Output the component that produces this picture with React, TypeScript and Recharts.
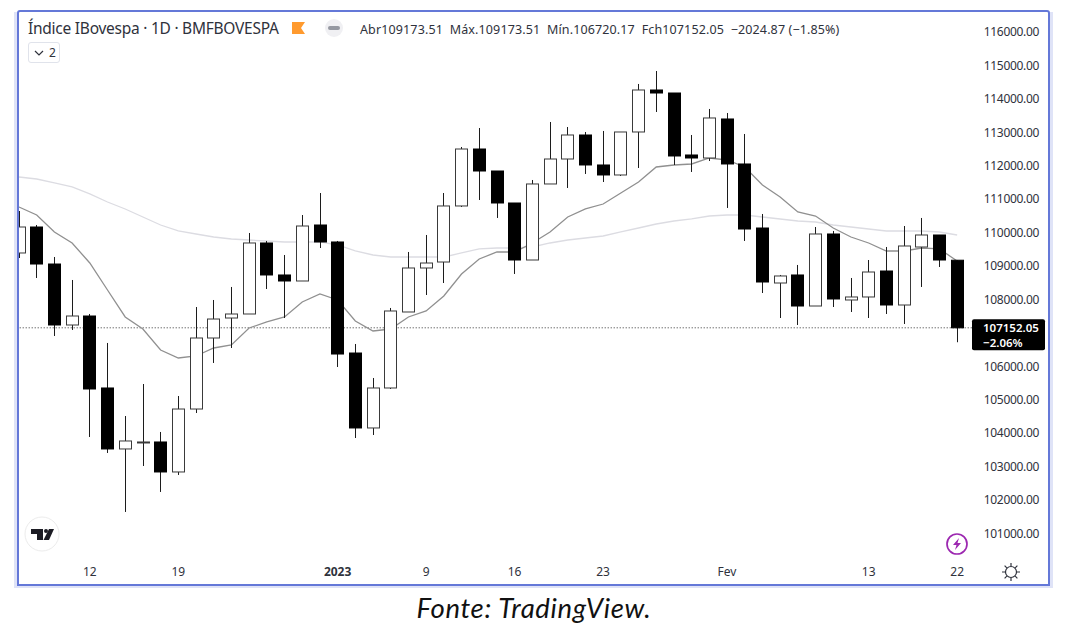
import { ComposedChart, Bar, Line, XAxis, YAxis, ReferenceLine } from 'recharts';

const opens = [
  109390, 110167, 109060, 107236, 107505, 105352, 103528, 103737, 103737, 102840,
  104723, 106847, 107445, 107565, 109689, 108732, 108552, 110227, 109719, 106398,
  104156, 105352, 107625, 108941, 109120, 110796, 112500, 111842, 110885, 109180,
  111454, 112201, 112919, 112022, 111723, 113009, 114265, 114175, 112321, 112231,
  113398, 112052, 110137, 108492, 108732, 107804, 109958, 107984, 108074, 108851,
  107834, 109569, 109928, 109173.51,
];
const highs = [
  110646, 110227, 109270, 108582, 107565, 106698, 104514, 105471, 104036, 105112,
  107774, 107984, 108373, 109988, 109749, 109330, 110526, 111184, 109749, 106668,
  105651, 107745, 109420, 109928, 111184, 112560, 113128, 111842, 110885, 111573,
  113308, 113158, 113009, 113039, 113009, 114445, 114833, 114175, 112919, 113697,
  113577, 112949, 110556, 108732, 109031, 110167, 110048, 108642, 109180, 109569,
  110197, 110437, 109928, 109173.51,
];
const lows = [
  109240, 108642, 106907, 107087, 103886, 103408, 101644, 103019, 102242, 102750,
  104604, 106100, 106548, 107565, 108313, 107445, 108552, 109539, 105980, 103856,
  103946, 105322, 107625, 108133, 108492, 110766, 110975, 110437, 108762, 109180,
  111454, 111334, 111753, 111513, 111693, 111932, 113607, 112022, 111813, 112141,
  110736, 109749, 108193, 107445, 107236, 107804, 107774, 107625, 107445, 107565,
  107266, 108373, 108971, 106720.17,
];
const closes = [
  110167, 109060, 107236, 107505, 105322, 103528, 103767, 103737, 102840, 104723,
  106847, 107415, 107565, 109689, 108732, 108552, 110197, 109719, 106368, 104156,
  105352, 107655, 108941, 109090, 110796, 112500, 111842, 110885, 109180, 111454,
  112201, 112919, 112022, 111723, 113009, 114265, 114175, 112291, 112231, 113428,
  112052, 110107, 108522, 108702, 107804, 109958, 108014, 108074, 108821, 107834,
  109599, 109928, 109180, 107152.05,
];
const fastAvg = [
  110766, 110526, 110018, 109689, 109091, 108283, 107476, 107116, 106489, 106249,
  106309, 106548, 106638, 107146, 107326, 107476, 107924, 108163, 107984, 107356,
  107057, 107116, 107476, 107655, 108104, 108762, 109210, 109420, 109420, 109689,
  110018, 110466, 110706, 110855, 111184, 111513, 111962, 112022, 112052, 112231,
  112171, 111962, 111424, 111065, 110616, 110496, 110137, 109868, 109689, 109450,
  109450, 109539, 109510, 109150,
];
const slowAvg = [
  111663, 111603, 111484, 111364, 111155, 110915, 110706, 110466, 110227, 110048,
  109958, 109868, 109808, 109778, 109749, 109719, 109719, 109719, 109629, 109450,
  109330, 109270, 109270, 109270, 109270, 109390, 109510, 109539, 109539, 109569,
  109689, 109778, 109838, 109898, 110018, 110137, 110257, 110347, 110407, 110496,
  110526, 110526, 110466, 110407, 110347, 110317, 110227, 110167, 110107, 110048,
  110048, 110048, 110018, 109928,
];
const priceTicks = [
  101000, 102000, 103000, 104000, 105000, 106000, 108000, 109000,
  110000, 111000, 112000, 113000, 114000, 115000, 116000,
];
const priceDomain = [100207, 116538];
const dateTicks = [4, 9, 18, 23, 28, 33, 40, 48, 53];
const dateLabels = ['12', '19', '2023', '9', '16', '23', 'Fev', '13', '22'];
const lastClose = 107152.05;

const rows: any[] = opens.map((o, i) => ({
  idx: i,
  open: o,
  close: closes[i],
  high: highs[i],
  low: lows[i],
  range: [lows[i], highs[i]],
  fast: fastAvg[i],
  slow: slowAvg[i],
}));
// empty slot so the price line runs on under the tag
rows.push({ idx: opens.length });

const FONT = '"Noto Sans", sans-serif';
const TEXT = '#2f323c';
const chartProps = {
  width: 1068,
  height: 626,
  data: rows,
  margin: { top: 14, right: 0, bottom: 42, left: 10.15 },
};

function Candle(props: any) {
  const { x, y, width, height, payload } = props;
  if (!payload?.range || !height) return null;
  const perUnit = height / (payload.high - payload.low);
  const yOf = (v: number) => y + (payload.high - v) * perUnit;
  const top = yOf(Math.max(payload.open, payload.close));
  const bottom = yOf(Math.min(payload.open, payload.close));
  const mid = Math.round(x + width / 2 - 0.5) + 0.5;
  const w = 12;
  const up = payload.close >= payload.open;
  return (
    <g>
      <line x1={mid} x2={mid} y1={y} y2={y + height} stroke="#1c1c1c" strokeWidth={1} />
      <rect
        x={mid - w / 2}
        y={top}
        width={w}
        height={Math.max(bottom - top, 1)}
        fill={up ? '#ffffff' : '#000000'}
        stroke={up ? '#3a3a3a' : '#000000'}
        strokeWidth={1}
      />
    </g>
  );
}

function DateTick({ x, y, payload }: any) {
  const label = dateLabels[dateTicks.indexOf(payload.value)];
  return (
    <text
      x={x}
      y={y}
      textAnchor="middle"
      fontSize={12}
      fontFamily={FONT}
      fontWeight={label === '2023' ? 700 : 400}
      fill={TEXT}
    >
      {label}
    </text>
  );
}

function PriceTag({ viewBox }: any) {
  const cy = viewBox.y;
  return (
    <g fontFamily={FONT} fontSize={11.5} fill="#ffffff">
      <rect x={972} y={cy - 8.5} width={73} height={31} rx={2} fill="#000000" />
      <text fontWeight={600}>
        <tspan x={983} y={cy + 4.5}>107152.05</tspan>
        <tspan x={983} y={cy + 19.5}>−2.06%</tspan>
      </text>
    </g>
  );
}

export default function App() {
  return (
    <div style={{ position: 'absolute', left: 0, top: 0, width: 1068, height: 626, background: '#fff', overflow: 'hidden' }}>
      {/* moving averages and price line sit under the candles, so they get their own layer */}
      <div style={{ position: 'absolute', left: 0, top: 0 }}>
        <ComposedChart {...chartProps}>
          <XAxis dataKey="idx" scale="band" height={24} axisLine={false} tickLine={false} tick={false} />
          <YAxis orientation="right" width={84.3} domain={priceDomain} allowDataOverflow axisLine={false} tickLine={false} tick={false} />
          <ReferenceLine y={lastClose} stroke="#333333" strokeWidth={1} strokeDasharray="1 2" />
          <Line dataKey="slow" stroke="#dcdce2" strokeWidth={1.3} dot={false} isAnimationActive={false} />
          <Line dataKey="fast" stroke="#909090" strokeWidth={1.3} dot={false} isAnimationActive={false} />
        </ComposedChart>
      </div>
      <div style={{ position: 'absolute', left: 0, top: 0 }}>
        <ComposedChart {...chartProps} barCategoryGap="14%">
          <XAxis
            dataKey="idx"
            scale="band"
            ticks={dateTicks}
            interval={0}
            height={24}
            axisLine={false}
            tickLine={false}
            tick={<DateTick />}
            tickMargin={10}
          />
          <YAxis
            orientation="right"
            width={84.3}
            domain={priceDomain}
            allowDataOverflow
            ticks={priceTicks}
            interval={0}
            axisLine={false}
            tickLine={false}
            tickMargin={0}
            tickSize={0}
            tick={{ fontSize: 12, fontFamily: FONT, fill: TEXT, letterSpacing: -0.3 }}
            tickFormatter={(v: number) => v.toFixed(2)}
          />
          <Bar dataKey="range" shape={<Candle />} isAnimationActive={false} />
          <ReferenceLine y={lastClose} stroke="none" label={{ content: PriceTag }} />
        </ComposedChart>
      </div>

      {/* page edge left of the frame hides the cut-off first candle */}
      <div style={{ position: 'absolute', left: 0, top: 0, width: 17, height: 626, background: '#fff' }} />
      <div style={{ position: 'absolute', left: 14, top: 12, width: 3, height: 576, background: '#dfe3f7' }} />
      <div style={{ position: 'absolute', left: 1050, top: 12, width: 3, height: 576, background: '#dfe3f7' }} />
      <div style={{ position: 'absolute', left: 14, top: 586, width: 1039, height: 2, background: '#dfe3f7' }} />
      <div
        style={{
          position: 'absolute',
          left: 17,
          top: 10,
          width: 1033,
          height: 576,
          boxSizing: 'border-box',
          border: '2px solid #6478d8',
          borderRadius: '3px 3px 0 0',
          pointerEvents: 'none',
        }}
      />

      {/* legend header */}
      <div style={{ position: 'absolute', left: 28, top: 17, fontFamily: FONT, fontSize: 15.5, letterSpacing: -0.25, color: TEXT, whiteSpace: 'nowrap' }}>
        Índice IBovespa · 1D · BMFBOVESPA
      </div>
      <svg style={{ position: 'absolute', left: 285, top: 15 }} width={60} height={26}>
        <path d="M7 7 H20 L16 13 L20 19 H7 Z" fill="#ff9a2e" />
        <circle cx={49} cy={13} r={9} fill="#f0f0f3" />
        <rect x={43} y={11} width={12} height={4} rx={2} fill="#9598a1" />
      </svg>
      <div style={{ position: 'absolute', left: 360, top: 21, fontFamily: FONT, fontSize: 12.5, letterSpacing: 0.13, color: TEXT, whiteSpace: 'pre' }}>
        {'Abr109173.51  Máx.109173.51  Mín.106720.17  Fch107152.05  −2024.87 (−1.85%)'}
      </div>
      <div
        style={{
          position: 'absolute',
          left: 28,
          top: 42,
          width: 32,
          height: 21,
          boxSizing: 'border-box',
          border: '1px solid #e0e3eb',
          borderRadius: 3,
          fontFamily: FONT,
          fontSize: 12,
          color: TEXT,
          lineHeight: '19px',
          paddingLeft: 20,
        }}
      >
        2
      </div>
      <svg style={{ position: 'absolute', left: 33, top: 47 }} width={12} height={12}>
        <path d="M2 4 L6 8 L10 4" fill="none" stroke={TEXT} strokeWidth={1.2} />
      </svg>

      {/* TradingView mark */}
      <svg style={{ position: 'absolute', left: 24, top: 516 }} width={36} height={36}>
        <circle cx={18} cy={18} r={17} fill="#fff" stroke="#ececec" strokeWidth={1} />
        <path d="M7 13 H19 V24 H13 V18 H7 Z" fill="#1c1c24" />
        <circle cx={22} cy={15} r={2} fill="#1c1c24" />
        <path d="M25 13 H30 L25 24 H19.5 Z" fill="#1c1c24" />
      </svg>
      {/* bolt */}
      <svg style={{ position: 'absolute', left: 945, top: 532 }} width={24} height={24}>
        <circle cx={12} cy={12} r={10} fill="#fff" stroke="#9c27b0" strokeWidth={1.7} />
        <path d="M14 6 L8 13 H11.5 L10 18 L16 11 H12.5 Z" fill="#9c27b0" />
      </svg>
      {/* settings */}
      <svg style={{ position: 'absolute', left: 1001, top: 562 }} width={20} height={20}>
        <circle cx={10} cy={10} r={5.5} fill="none" stroke="#2f323c" strokeWidth={1.2} />
        <path
          d="M10 1 V4 M10 16 V19 M1 10 H4 M16 10 H19 M3.6 3.6 L5.8 5.8 M14.2 14.2 L16.4 16.4 M3.6 16.4 L5.8 14.2 M14.2 5.8 L16.4 3.6"
          stroke="#2f323c"
          strokeWidth={1.2}
        />
      </svg>

      <div
        style={{
          position: 'absolute',
          left: 0,
          width: 1068,
          top: 590,
          textAlign: 'center',
          fontFamily: 'Lato, sans-serif',
          fontStyle: 'italic',
          fontSize: 27.5,
          letterSpacing: 0.65,
          lineHeight: '36px',
          color: '#111',
        }}
      >
        Fonte: TradingView.
      </div>
    </div>
  );
}
